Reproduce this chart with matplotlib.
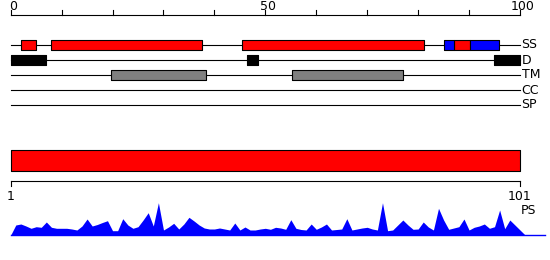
import numpy as np
import matplotlib
matplotlib.use("Agg")
import matplotlib.pyplot as plt

# feature tracks, (start, end) in sequence units 0..100
track_names = ["SS", "D", "TM", "CC", "SP"]
ss_helix = [(2, 5), (8, 37.5), (45.5, 81.2), (87.1, 90.1)]   # red
ss_strand = [(85.1, 87.1), (90.1, 95.9)]                     # blue
disorder = [(0, 6.9), (46.4, 48.5), (94.9, 100)]
transmem = [(19.6, 38.4), (55.3, 77.1)]

seq_start, seq_end = 1, 101
top_ticks = [0, 10, 20, 30, 40, 50, 60, 70, 80, 90, 100]
top_labels = {0: "0", 50: "50", 100: "100"}

# PS profile, one value per position (1..102)
ps_values = [0, 10, 11, 9, 6.7, 8.3, 7.7, 13, 7.7, 6.7,
             6.7, 6.7, 6, 5, 9, 16, 9, 10.5, 12.5, 14.3,
             4.3, 4.3, 16.3, 10, 6.7, 8.3, 15, 22.3, 9, 32.3,
             5, 8, 11.7, 6, 11, 17.7, 14, 10, 7, 6,
             6, 7, 6, 5, 12, 5, 8, 5, 5, 6,
             6.7, 5.7, 7.7, 7, 5.7, 15.3, 6.7, 5.5, 5, 11,
             5.7, 8, 11, 5, 5.5, 6, 16.3, 5, 6, 7,
             7.7, 6, 5, 32.3, 4.3, 5, 10, 15, 10, 5.7,
             6, 13, 8, 5, 26.7, 15, 5.7, 7, 8.3, 16,
             5, 7.7, 9, 11, 6.7, 8.3, 25, 6.3, 15, 10,
             5, 0]
ps_pos = np.arange(1, len(ps_values) + 1)

fig = plt.figure(figsize=(5.5, 2.6), dpi=100)
px = 5.093  # pixels per sequence unit
ax = fig.add_axes([0, 0, 1, 1])
ax.set_xlim(-10.7 / px, (550 - 10.7) / px)
ax.set_ylim(260, 0)
ax.axis("off")
fs = 9

# top ruler
ax.plot([0, 100], [15, 15], color="black", lw=0.8)
for t in top_ticks:
    ax.plot([t, t], [15, 10], color="black", lw=0.8)
for t, lab in top_labels.items():
    ax.text(t + 0.5, 6, lab, ha="center", va="center", fontsize=fs)

# tracks
row_y = [45, 60, 75, 90, 105]
for name, y in zip(track_names, row_y):
    ax.plot([0, 100], [y, y], color="black", lw=0.8, zorder=1)
    ax.text(100.3, y, name, ha="left", va="center", fontsize=fs)

h = 10
ax.broken_barh([(a, b - a) for a, b in ss_helix], (row_y[0] - h / 2, h),
               facecolor="#ff0000", edgecolor="black", lw=0.8, zorder=2)
ax.broken_barh([(a, b - a) for a, b in ss_strand], (row_y[0] - h / 2, h),
               facecolor="#0000ff", edgecolor="black", lw=0.8, zorder=2)
ax.broken_barh([(a, b - a) for a, b in disorder], (row_y[1] - h / 2, h),
               facecolor="black", edgecolor="black", lw=0.8, zorder=2)
ax.broken_barh([(a, b - a) for a, b in transmem], (row_y[2] - h / 2, h),
               facecolor="#808080", edgecolor="black", lw=0.8, zorder=2)

# bottom panel, residue scale 1..101
ax2 = fig.add_axes([0, 0, 1, 1])
ax2.set_xlim(seq_start - 10.7 / px, seq_start + (550 - 10.7) / px)
ax2.set_ylim(260, 0)
ax2.axis("off")
ax2.patch.set_alpha(0)

ax2.broken_barh([(seq_start, seq_end - seq_start)], (150, 20.5),
                facecolor="#ff0000", edgecolor="black", lw=0.8)
ax2.plot([seq_start, seq_end], [180.5, 180.5], color="black", lw=0.8)
for t in [seq_start, seq_end]:
    ax2.plot([t, t], [180.5, 185.5], color="black", lw=0.8)
    ax2.text(t, 196, str(t), ha="center", va="center", fontsize=fs)
ax2.text(seq_end + 0.2, 211, "PS", ha="left", va="center", fontsize=fs)

base = 235
ax2.fill_between(ps_pos, base, base - np.array(ps_values), color="#0000ff", lw=0)
ax2.plot([seq_start, seq_start + (545 - 10.7) / px], [base, base], color="#0000ff", lw=1)

fig.savefig("out.png", dpi=100)
